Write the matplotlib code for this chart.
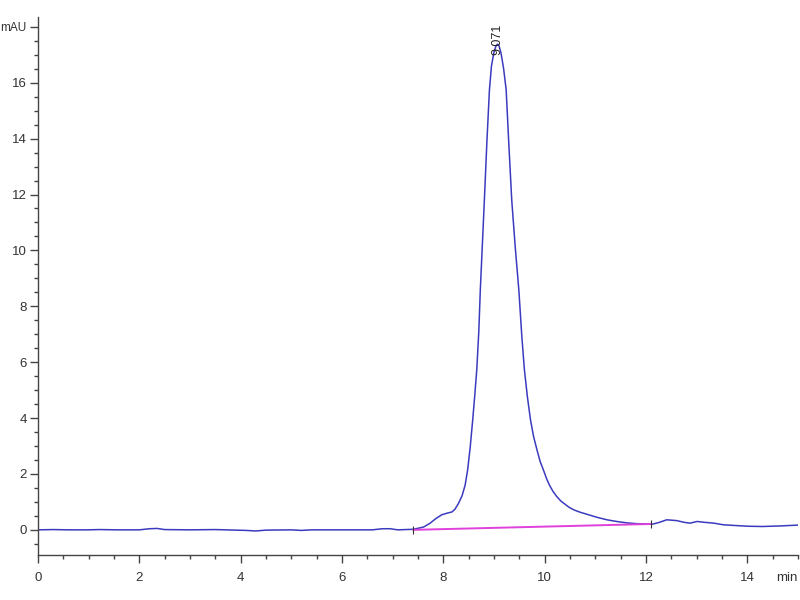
import matplotlib
matplotlib.use('Agg')
import matplotlib.pyplot as plt
from matplotlib.ticker import MultipleLocator

# chromatogram (min, mAU)
time = [0.0, 0.3, 0.6, 1.0, 1.2, 1.6, 2.0, 2.2, 2.35, 2.5, 3.0, 3.5, 3.7,
        4.1, 4.3, 4.5, 5.0, 5.2, 5.4, 6.0, 6.6, 6.8, 6.95, 7.1, 7.41,
        7.61, 7.74, 7.85, 7.97, 8.08, 8.17, 8.23, 8.3, 8.37, 8.43, 8.48,
        8.53, 8.58, 8.62, 8.66, 8.70, 8.73, 8.77, 8.81, 8.86, 8.91, 8.95,
        9.0, 9.04, 9.07, 9.10, 9.14, 9.19, 9.24, 9.29, 9.35, 9.42, 9.49,
        9.55, 9.60, 9.66, 9.72, 9.78, 9.85, 9.91, 9.98, 10.04, 10.1,
        10.17, 10.24, 10.32, 10.4, 10.48, 10.57, 10.7, 10.83, 11.03,
        11.23, 11.42, 11.62, 11.82, 12.02, 12.12, 12.25, 12.41, 12.61,
        12.75, 12.87, 13.01, 13.15, 13.34, 13.53, 14.0, 14.3, 14.65, 15.0]
signal = [0.0, 0.01, 0.0, 0.0, 0.01, 0.0, 0.0, 0.04, 0.05, 0.01, 0.0, 0.01,
          0.0, -0.02, -0.04, -0.01, 0.0, -0.02, 0.0, 0.0, 0.0, 0.04, 0.04,
          0.0, 0.02, 0.10, 0.24, 0.40, 0.54, 0.60, 0.64, 0.74, 0.95, 1.22,
          1.6, 2.15, 2.95, 3.94, 4.8, 5.73, 7.1, 8.59, 10.2, 11.8, 13.9,
          15.75, 16.6, 17.1, 17.32, 17.38, 17.32, 17.05, 16.5, 15.75, 13.9,
          11.8, 10.1, 8.59, 6.9, 5.73, 4.75, 3.94, 3.35, 2.85, 2.45, 2.12,
          1.82, 1.58, 1.36, 1.19, 1.03, 0.92, 0.81, 0.72, 0.63, 0.56, 0.45,
          0.36, 0.30, 0.25, 0.22, 0.21, 0.20, 0.26, 0.36, 0.33, 0.27, 0.24,
          0.30, 0.27, 0.24, 0.18, 0.13, 0.12, 0.14, 0.17]

# integration baseline
base_t = [7.41, 12.1]
base_v = [0.0, 0.21]

peak_t = 9.071
peak_label = '9.071'

plt.rcParams['font.family'] = ['Liberation Sans', 'DejaVu Sans']

fig = plt.figure(figsize=(8, 6), dpi=100)
ax = fig.add_axes([0.0475, 0.075, 0.95, 0.897])

ax.plot(time, signal, color='#3b3bbf', linewidth=1.1)
ax.plot(base_t, base_v, color='#e040dc', linewidth=1.4)
ax.vlines(base_t, [v - 0.15 for v in base_v], [v + 0.15 for v in base_v],
          color='#333333', linewidth=0.8)

ax.text(peak_t, 17.0, peak_label, rotation=90, ha='center', va='bottom',
        fontsize=9, color='#222222')

ax.set_xlim(0, 15.0)
ax.set_ylim(-0.9, 18.36)

ax.spines['top'].set_visible(False)
ax.spines['right'].set_visible(False)
for s in ['left', 'bottom']:
    ax.spines[s].set_color('#444444')
    ax.spines[s].set_linewidth(1.0)

ax.set_xticks(range(0, 16, 2))
ax.set_xticklabels([str(v) for v in range(0, 16, 2)])
ax.set_yticks(range(0, 20, 2))
ax.set_yticklabels([str(v) for v in range(0, 18, 2)] + ['mAU'])
ax.xaxis.set_minor_locator(MultipleLocator(0.5))
ax.yaxis.set_minor_locator(MultipleLocator(0.5))
ax.tick_params(which='major', direction='out', length=6, width=1,
               color='#444444', labelsize=9.5, labelcolor='#333333')
ax.tick_params(axis='x', which='major', pad=6)
ax.tick_params(axis='y', which='major', pad=2)
ax.tick_params(which='minor', direction='out', length=3, width=1,
               color='#444444')
ax.get_yticklabels()[-1].set_fontsize(8.5)

ax.text(1.0, -0.032, 'min', transform=ax.transAxes, ha='right', va='top',
        fontsize=9.5, color='#333333')

fig.savefig('out.png', dpi=100)
